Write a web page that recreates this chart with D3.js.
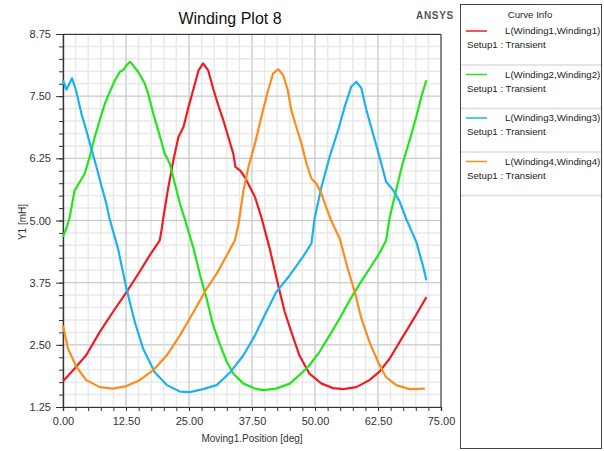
<!DOCTYPE html>
<html>
<head>
<meta charset="utf-8">
<script src="https://cdn.jsdelivr.net/npm/d3@7"></script>
<style>
  body { margin: 0; background: #fff; }
  svg { font-family: "Liberation Sans", Arial, sans-serif; }
</style>
</head>
<body>
<div id="chart"></div>
<script>
// Data: position [deg] and inductance [mH] per winding
var w1Pos = [0, 2.0, 4.6, 7.3, 9.9, 12.6, 15.2, 17.2, 19.2, 19.6, 19.9, 20.9, 21.9, 22.9, 23.9, 24.9, 25.9, 26.9, 27.8, 28.8, 29.8, 30.8, 31.8, 32.8, 33.8, 34.2, 35.1, 36.1, 37.1, 38.1, 39.4, 41.0, 42.7, 44.0, 45.3, 46.9, 48.9, 51.3, 53.6, 55.6, 58.2, 60.8, 62.8, 64.8, 66.8, 68.8, 70.8, 72.1];
var w1L = [1.77, 1.99, 2.29, 2.76, 3.16, 3.56, 3.97, 4.30, 4.60, 4.84, 5.05, 5.67, 6.21, 6.68, 6.88, 7.28, 7.65, 8.02, 8.16, 8.02, 7.65, 7.32, 7.02, 6.68, 6.34, 6.08, 6.01, 5.87, 5.67, 5.47, 5.05, 4.44, 3.70, 3.16, 2.76, 2.29, 1.92, 1.72, 1.63, 1.61, 1.65, 1.79, 1.96, 2.22, 2.56, 2.89, 3.23, 3.46];

var w2Pos = [0, 0.66, 1.3, 2.3, 3.3, 4.3, 5.3, 6.3, 7.3, 8.3, 9.3, 10.3, 11.3, 11.9, 12.6, 13.3, 13.9, 14.9, 16.2, 16.9, 17.9, 18.9, 20.2, 21.2, 22.2, 23.2, 24.1, 25.9, 27.2, 28.5, 29.8, 31.2, 32.5, 33.8, 35.8, 38.1, 39.7, 42.3, 45.0, 46.9, 48.9, 50.9, 52.9, 54.9, 56.9, 58.9, 60.8, 62.8, 64.1, 64.8, 66.1, 67.4, 68.8, 70.1, 71.1, 72.1];
var w2L = [4.67, 4.84, 5.05, 5.60, 5.77, 5.94, 6.28, 6.68, 7.02, 7.35, 7.59, 7.82, 7.99, 8.02, 8.12, 8.19, 8.12, 7.99, 7.76, 7.55, 7.15, 6.81, 6.34, 6.14, 5.74, 5.34, 5.05, 4.44, 3.90, 3.43, 2.89, 2.49, 2.16, 1.92, 1.72, 1.62, 1.59, 1.62, 1.72, 1.89, 2.09, 2.36, 2.69, 3.03, 3.40, 3.73, 4.03, 4.34, 4.60, 5.05, 5.61, 6.15, 6.62, 7.09, 7.49, 7.82];

var w3Pos = [0, 0.66, 1.8, 2.65, 3.65, 4.64, 5.6, 6.63, 7.6, 8.6, 9.2, 10.9, 12.6, 14.25, 15.9, 18.2, 20.6, 23.2, 25.2, 27.8, 30.5, 33.2, 35.8, 38.1, 39.7, 42.3, 45.0, 47.6, 49.3, 49.9, 51.3, 52.9, 54.6, 55.9, 57.2, 58.2, 59.2, 60.2, 61.5, 62.8, 64.1, 65.5, 66.8, 68.1, 70.1, 71.4, 72.1];
var w3L = [7.82, 7.63, 7.86, 7.59, 7.15, 6.81, 6.45, 6.08, 5.71, 5.34, 5.05, 4.44, 3.63, 2.96, 2.42, 1.95, 1.69, 1.56, 1.55, 1.61, 1.69, 1.95, 2.29, 2.69, 3.03, 3.56, 3.90, 4.27, 4.54, 5.03, 5.68, 6.28, 6.82, 7.29, 7.69, 7.79, 7.66, 7.22, 6.75, 6.28, 5.78, 5.61, 5.38, 5.03, 4.57, 4.10, 3.80];

var w4Pos = [0, 1.0, 2.65, 4.6, 7.3, 9.9, 12.6, 15.2, 17.9, 20.6, 23.2, 25.9, 28.5, 30.5, 32.5, 34.1, 34.8, 35.8, 36.8, 38.1, 39.7, 40.7, 41.7, 42.7, 43.7, 44.6, 45.3, 46.3, 47.3, 48.3, 49.3, 50.3, 51.3, 52.2, 53.2, 54.9, 56.5, 57.9, 59.2, 60.8, 62.5, 64.1, 66.1, 68.8, 71.8];
var w4L = [2.89, 2.42, 2.06, 1.79, 1.65, 1.62, 1.67, 1.79, 1.99, 2.29, 2.69, 3.16, 3.63, 3.93, 4.30, 4.60, 4.91, 5.60, 6.08, 6.55, 7.22, 7.62, 7.96, 8.04, 7.92, 7.62, 7.22, 6.88, 6.55, 6.15, 5.84, 5.74, 5.54, 5.27, 5.00, 4.64, 4.03, 3.56, 3.03, 2.56, 2.16, 1.85, 1.69, 1.61, 1.62];

var seriesNames = ["L(Winding1,Winding1)", "L(Winding2,Winding2)", "L(Winding3,Winding3)", "L(Winding4,Winding4)"];
var seriesColors = ["#ee1c25", "#22e51c", "#1ab2f0", "#fb8c1e"];
var xTicks = [0, 12.5, 25, 37.5, 50, 62.5, 75];
var yTicks = [1.25, 2.5, 3.75, 5, 6.25, 7.5, 8.75];

var series = [
  { pos: w1Pos, val: w1L },
  { pos: w2Pos, val: w2L },
  { pos: w3Pos, val: w3L },
  { pos: w4Pos, val: w4L }
];

var svgWidth = 604;
var svgHeight = 451;
var margin = { top: 34, left: 63 };
var chartWidth = 378;
var chartHeight = 373;

var svg = d3.select("#chart")
  .append("svg")
  .attr("width", svgWidth)
  .attr("height", svgHeight);

var xScale = d3.scaleLinear().domain([0, 75]).range([0, chartWidth]);
var yScale = d3.scaleLinear().domain([1.25, 8.75]).range([chartHeight, 0]);

var chartGroup = svg.append("g")
  .attr("transform", `translate(${margin.left}, ${margin.top})`);

// minor grid (every 2.5 deg / 0.25 mH)
var xMinor = d3.range(0, 75.01, 2.5);
var yMinor = d3.range(1.25, 8.76, 0.25);

chartGroup.selectAll("line.xminor")
  .data(xMinor)
  .enter()
  .append("line")
  .attr("x1", d => xScale(d)).attr("x2", d => xScale(d))
  .attr("y1", 0).attr("y2", chartHeight)
  .attr("stroke", "#e9e9e9")
  .attr("stroke-width", 1.5);

chartGroup.selectAll("line.yminor")
  .data(yMinor)
  .enter()
  .append("line")
  .attr("y1", d => yScale(d)).attr("y2", d => yScale(d))
  .attr("x1", 0).attr("x2", chartWidth)
  .attr("stroke", "#e9e9e9")
  .attr("stroke-width", 1.5);

// major grid
chartGroup.selectAll("line.xmajor")
  .data(xTicks)
  .enter()
  .append("line")
  .attr("x1", d => xScale(d)).attr("x2", d => xScale(d))
  .attr("y1", 0).attr("y2", chartHeight)
  .attr("stroke", "#c8c8c8");

chartGroup.selectAll("line.ymajor")
  .data(yTicks)
  .enter()
  .append("line")
  .attr("y1", d => yScale(d)).attr("y2", d => yScale(d))
  .attr("x1", 0).attr("x2", chartWidth)
  .attr("stroke", "#c8c8c8");

// frame top / right
chartGroup.append("path")
  .attr("d", `M0,0.5H${chartWidth}V${chartHeight}`)
  .attr("fill", "none")
  .attr("stroke", "#333");

// axes
var xAxisMinor = d3.axisBottom(xScale).tickValues(xMinor).tickSize(4).tickFormat("");
var yAxisMinor = d3.axisLeft(yScale).tickValues(yMinor).tickSize(4).tickFormat("");
var xAxis = d3.axisBottom(xScale).tickValues(xTicks).tickSize(4).tickPadding(6).tickFormat(d3.format(".2f"));
var yAxis = d3.axisLeft(yScale).tickValues(yTicks).tickSize(7).tickPadding(5).tickFormat(d3.format(".2f"));

chartGroup.append("g")
  .attr("transform", `translate(0, ${chartHeight})`)
  .call(xAxisMinor);
chartGroup.append("g")
  .attr("transform", `translate(0, ${chartHeight})`)
  .call(xAxis);
chartGroup.append("g").call(yAxisMinor);
chartGroup.append("g").call(yAxis);

chartGroup.selectAll(".domain").attr("stroke", "#333").attr("stroke-width", 1.2);
chartGroup.selectAll(".tick line").attr("stroke", "#333");
chartGroup.selectAll(".tick text")
  .attr("font-family", "'Liberation Sans', Arial, sans-serif")
  .attr("font-size", "11px")
  .attr("fill", "#333");

// curves
var line = d3.line()
  .x(d => xScale(d[0]))
  .y(d => yScale(d[1]));

series.forEach(function(s, i) {
  var pts = s.pos.map((p, j) => [p, s.val[j]]);
  chartGroup.append("path")
    .datum(pts)
    .attr("d", line)
    .attr("fill", "none")
    .attr("stroke", seriesColors[i])
    .attr("stroke-width", 2.2)
    .attr("stroke-linejoin", "round");
});

// titles
svg.append("text")
  .attr("x", 230)
  .attr("y", 24)
  .attr("text-anchor", "middle")
  .attr("font-size", "16px")
  .attr("fill", "#111")
  .text("Winding Plot 8");

svg.append("text")
  .attr("x", 416)
  .attr("y", 19)
  .attr("font-size", "10px")
  .attr("font-weight", "bold")
  .attr("letter-spacing", "0.7px")
  .attr("fill", "#555")
  .text("ANSYS");

svg.append("text")
  .attr("x", margin.left + chartWidth / 2)
  .attr("y", 442)
  .attr("text-anchor", "middle")
  .attr("font-size", "10px")
  .attr("fill", "#333")
  .text("Moving1.Position [deg]");

svg.append("text")
  .attr("transform", "rotate(-90)")
  .attr("x", -222)
  .attr("y", 26)
  .attr("text-anchor", "middle")
  .attr("font-size", "10px")
  .attr("fill", "#333")
  .text("Y1 [mH]");

// legend
var legend = svg.append("g");
legend.append("rect")
  .attr("x", 460.5).attr("y", 4.5)
  .attr("width", 141).attr("height", 444)
  .attr("fill", "#fff")
  .attr("stroke", "#444");

legend.append("text")
  .attr("x", 530).attr("y", 18)
  .attr("text-anchor", "middle")
  .attr("font-size", "9.7px")
  .attr("fill", "#222")
  .text("Curve Info");

var entry = legend.selectAll("g.entry")
  .data(seriesNames)
  .enter()
  .append("g")
  .attr("transform", (d, i) => `translate(0, ${i * 43.5})`);

entry.append("line")
  .attr("x1", 466).attr("x2", 487)
  .attr("y1", 31).attr("y2", 31)
  .attr("stroke", (d, i) => seriesColors[i])
  .attr("stroke-width", 1.5);

entry.append("text")
  .attr("x", 505).attr("y", 34)
  .attr("font-size", "9.7px")
  .attr("fill", "#222")
  .text(d => d);

entry.append("text")
  .attr("x", 467).attr("y", 48)
  .attr("font-size", "9.7px")
  .attr("fill", "#222")
  .text("Setup1 : Transient");

entry.append("line")
  .attr("x1", 461).attr("x2", 601)
  .attr("y1", 65).attr("y2", 65)
  .attr("stroke", "#dcdcdc")
  .attr("stroke-width", 1.5);
</script>
</body>
</html>
